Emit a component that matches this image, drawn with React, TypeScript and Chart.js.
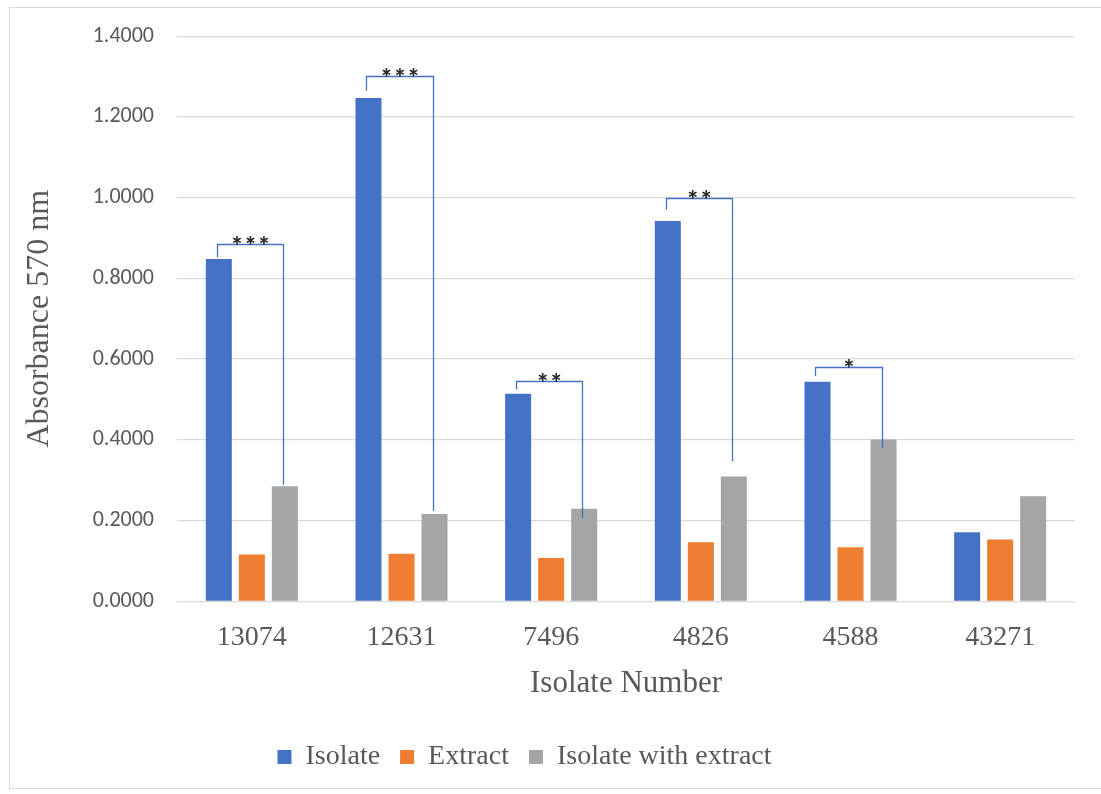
import React, { useEffect, useRef } from "react";
import { Chart, registerables } from "chart.js";

Chart.register(...registerables);

const categories = ["13074", "12631", "7496", "4826", "4588", "43271"];
const isolate = [0.848, 1.247, 0.514, 0.942, 0.544, 0.171];
const extract = [0.116, 0.118, 0.107, 0.146, 0.134, 0.153];
const isolateWithExtract = [0.285, 0.216, 0.229, 0.309, 0.401, 0.26];
const yTicks = [0, 0.2, 0.4, 0.6, 0.8, 1.0, 1.2, 1.4];

// Significance brackets between "Isolate" and "Isolate with extract"
const bracketCategory = [0, 1, 2, 3, 4];
const bracketStars = ["***", "***", "**", "**", "*"];
const bracketTop = [0.885, 1.301, 0.547, 0.999, 0.581];
const bracketLeftEnd = [0.852, 1.265, 0.525, 0.97, 0.558];
const bracketRightEnd = [0.289, 0.224, 0.207, 0.347, 0.38];

const serif = "'Liberation Serif', 'Times New Roman', serif";
const sans = "Carlito, Lato, 'Liberation Sans', sans-serif";

const bracketPlugin = {
  id: "bracketPlugin",
  afterDatasetsDraw(chart: any) {
    const { ctx } = chart;
    const y = chart.scales.y;
    const blue = chart.getDatasetMeta(0).data;
    const gray = chart.getDatasetMeta(2).data;
    ctx.save();
    bracketCategory.forEach((ci, k) => {
      const x1 = Math.round(blue[ci].x - 2) + 0.5;
      const x2 = Math.round(gray[ci].x - 2) + 0.5;
      const yt = Math.round(y.getPixelForValue(bracketTop[k])) + 0.5;
      const yl = y.getPixelForValue(bracketLeftEnd[k]);
      const yr = y.getPixelForValue(bracketRightEnd[k]);
      ctx.strokeStyle = "#4472C4";
      ctx.lineWidth = 1.3;
      ctx.beginPath();
      ctx.moveTo(x1, yl);
      ctx.lineTo(x1, yt);
      ctx.lineTo(x2, yt);
      ctx.lineTo(x2, yr);
      ctx.stroke();
      ctx.fillStyle = "#262626";
      ctx.font = `bold 27px ${sans}`;
      ctx.textAlign = "center";
      ctx.textBaseline = "alphabetic";
      ctx.fillText(bracketStars[k], (x1 + x2) / 2, yt + 10);
    });
    ctx.restore();
  },
};

// Nudge the legend row slightly left of the canvas centre
const legendShift = {
  id: "legendShift",
  afterLayout(chart: any) {
    const lg = chart.legend;
    if (lg) {
      lg.left -= 23;
      lg.right -= 23;
    }
  },
};

export default function App() {
  const ref = useRef<HTMLCanvasElement | null>(null);

  useEffect(() => {
    if (!ref.current) return;
    const chart = new Chart(ref.current, {
      type: "bar",
      data: {
        labels: categories,
        datasets: [
          { label: "Isolate", data: isolate, backgroundColor: "#4472C4" },
          { label: "Extract", data: extract, backgroundColor: "#ED7D31" },
          { label: "Isolate with extract", data: isolateWithExtract, backgroundColor: "#A5A5A5" },
        ],
      },
      options: {
        animation: false,
        responsive: false,
        maintainAspectRatio: false,
        layout: { padding: { left: 20, right: 26, top: 27, bottom: 13 } },
        datasets: {
          bar: { categoryPercentage: 0.662, barPercentage: 0.788 },
        },
        plugins: {
          tooltip: { enabled: false },
          legend: {
            position: "bottom",
            labels: {
              boxWidth: 14,
              boxHeight: 14,
              padding: 20,
              color: "#595959",
              font: { family: serif, size: 28 },
            },
          },
        },
        scales: {
          x: {
            grid: { display: false },
            border: { display: false },
            ticks: { color: "#595959", font: { family: serif, size: 28 }, padding: 12 },
            title: {
              display: true,
              text: "Isolate Number",
              color: "#595959",
              font: { family: serif, size: 31, lineHeight: 1.1 },
              padding: { top: 0, bottom: 22 },
            },
          },
          y: {
            min: 0,
            max: 1.4,
            afterBuildTicks: (s: any) => {
              s.ticks = yTicks.map((v) => ({ value: v }));
            },
            afterFit: (s: any) => {
              s.width = 157;
            },
            grid: { color: "#D9D9D9", lineWidth: 1.3, drawTicks: false },
            border: { display: false },
            ticks: {
              color: "#595959",
              font: { family: sans, size: 22 },
              padding: 23,
              callback: (v: any) => Number(v).toFixed(4),
            },
            title: {
              display: true,
              text: "Absorbance 570 nm",
              color: "#595959",
              font: { family: serif, size: 32 },
              padding: { top: 0, bottom: 0 },
            },
          },
        },
      },
      plugins: [bracketPlugin, legendShift],
    });
    return () => chart.destroy();
  }, []);

  return (
    <div style={{ position: "fixed", left: 0, top: 0, width: 1101, height: 794, background: "#fff" }}>
      <div
        style={{
          position: "absolute",
          left: 9,
          top: 7,
          width: 1100,
          height: 782,
          border: "1px solid #D9D9D9",
          boxSizing: "border-box",
        }}
      />
      <canvas ref={ref} width={1101} height={794} style={{ position: "absolute", left: 0, top: 0 }} />
    </div>
  );
}
